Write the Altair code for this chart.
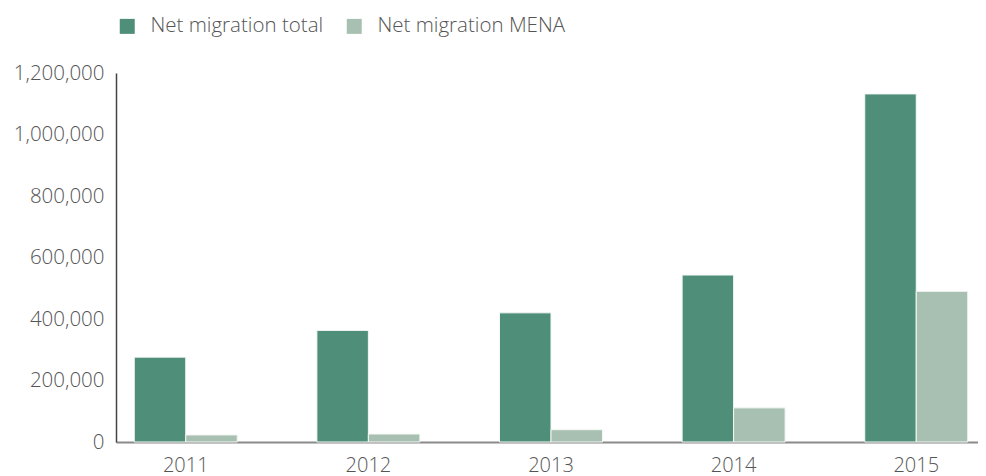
import altair as alt
import pandas as pd

years = ["2011", "2012", "2013", "2014", "2015"]
total = [276000, 363000, 420000, 543000, 1132000]
mena = [23000, 26000, 40000, 111000, 490000]
series = ["Net migration total", "Net migration MENA"]
colors = ["#4f8f79", "#a8c0b1"]

rows = []
for i, y in enumerate(years):
    rows.append({"year": y, "series": series[0], "value": total[i]})
    rows.append({"year": y, "series": series[1], "value": mena[i]})
df = pd.DataFrame(rows)

FONT = "Open Sans"
GREY = "#555555"

chart = alt.Chart(df).mark_bar(stroke="#f4f8f5", strokeWidth=1).encode(
    x=alt.X("year:N", sort=years, title=None,
            scale=alt.Scale(paddingInner=0.436, paddingOuter=0.1, range=[0, 870]),
            axis=alt.Axis(labelAngle=0, ticks=False, domainColor="#8a8a8a", domainWidth=2,
                          labelPadding=13, labelFontSize=20, labelColor=GREY,
                          labelFont=FONT, labelFontWeight=300)),
    xOffset=alt.XOffset("series:N", sort=series, scale=alt.Scale(paddingInner=0)),
    y=alt.Y("value:Q", title=None,
            scale=alt.Scale(domain=[0, 1200000], nice=False),
            axis=alt.Axis(values=[0, 200000, 400000, 600000, 800000, 1000000, 1200000],
                          format=",.0f", grid=False, ticks=False, domainColor="#444444",
                          domainWidth=1.5, labelPadding=12, labelFontSize=20.5,
                          labelColor=GREY, labelFont=FONT, labelFontWeight=300)),
    color=alt.Color("series:N", sort=series,
                    scale=alt.Scale(domain=series, range=colors),
                    legend=alt.Legend(title=None, orient="none", direction="horizontal",
                                      legendX=1, legendY=-57,
                                      symbolType="square", symbolSize=225,
                                      symbolStrokeWidth=0, labelOffset=13,
                                      columnPadding=20, labelFontSize=20.5,
                                      labelLimit=400,
                                      labelColor=GREY, labelFont=FONT,
                                      labelFontWeight=300)),
).properties(
    width=862, height=369,
    autosize=alt.AutoSizeParams(type="none"),
    padding={"left": 108, "top": 65, "right": 0, "bottom": 34},
).configure_view(stroke=None)

chart.save("out.html", embed_options={"renderer": "svg", "actions": False})
